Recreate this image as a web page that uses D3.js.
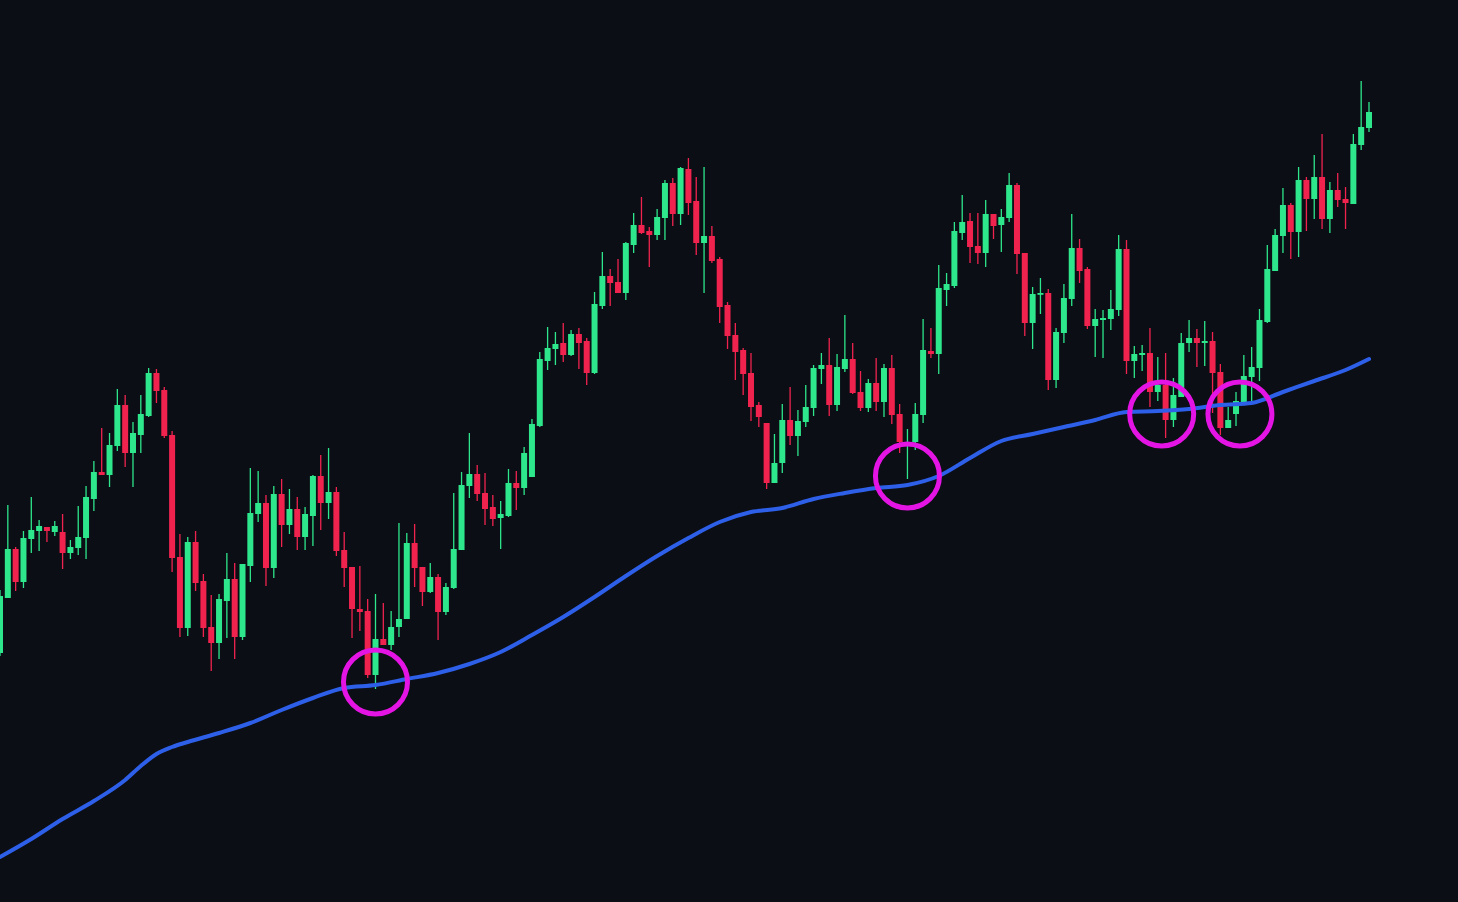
<!DOCTYPE html>
<html>
<head>
<meta charset="utf-8">
<script src="https://cdn.jsdelivr.net/npm/d3@7"></script>
<style>
html,body{margin:0;padding:0;background:#0b0e15;overflow:hidden;}
svg{display:block;}
</style>
</head>
<body>
<svg id="chart" width="1458" height="902"></svg>
<script>
// ---- data (price units) ----
const opens = [34.7,40.2,45.1,41.8,46.1,46.9,47.3,46.8,46.8,44.7,45.2,46.2,50.1,52.8,52.5,55.4,59.5,54.7,56.5,58.4,
62.7,61.0,56.5,44.3,37.2,45.8,41.9,37.3,35.7,39.9,42.1,36.3,43.4,48.6,49.7,43.2,50.6,47.5,49.1,46.3,
48.4,52.4,49.7,50.8,45.0,43.3,39.1,38.9,32.5,36.1,35.5,37.3,38.1,45.7,43.3,40.8,42.3,38.8,41.2,45.0,
51.4,52.6,50.7,49.3,48.2,48.4,51.7,51.2,52.3,57.4,63.9,65.1,65.7,64.5,66.6,65.9,62.7,69.4,72.4,71.8,
70.7,75.5,77.5,76.9,76.5,78.2,81.7,78.6,83.1,79.9,75.7,76.4,74.1,69.5,66.5,65.0,62.7,59.5,57.7,51.7,
53.7,58.0,56.4,57.8,59.2,63.1,63.5,59.5,63.1,64.1,60.8,59.2,61.7,59.8,63.2,58.6,55.4,55.8,58.5,64.9,
64.6,71.0,71.4,76.7,77.9,75.4,74.7,78.6,77.5,78.2,81.5,74.7,67.7,70.6,70.7,62.0,66.7,70.1,75.2,73.1,
67.4,68.0,68.1,69.0,75.1,63.9,64.5,64.7,60.8,61.5,58.0,60.3,65.7,66.2,65.7,65.9,62.8,57.2,58.6,59.8,
62.3,63.2,67.8,72.9,76.4,79.5,76.8,82.0,80.1,82.3,78.1,81.0,80.1,79.6,85.5,87.2];
const highs = [41.0,49.5,45.3,46.9,50.3,48.0,47.3,47.9,48.6,46.0,49.4,51.4,53.9,57.2,56.7,61.1,60.5,57.8,60.5,63.2,
63.1,61.3,56.9,46.6,46.3,46.9,42.6,40.5,40.6,44.7,43.7,43.6,53.2,52.9,50.5,51.4,52.1,51.1,50.3,49.3,
52.5,54.5,55.2,51.3,46.8,43.3,43.4,40.1,40.6,39.7,38.9,47.7,46.7,47.6,43.3,43.7,42.6,41.7,50.7,52.8,
56.7,53.5,52.7,50.5,49.9,53.1,52.9,55.3,58.1,64.8,67.3,66.8,67.7,67.0,67.2,66.2,70.8,74.8,73.1,74.1,
75.8,78.7,80.3,77.3,79.1,82.0,82.2,83.3,84.2,82.3,83.3,77.4,74.3,69.8,67.7,65.2,64.7,59.8,57.7,56.6,
59.6,61.3,59.0,61.5,63.5,64.7,66.2,64.6,68.5,65.7,62.9,62.1,64.2,63.6,64.5,59.6,57.1,59.7,68.1,67.2,
73.5,72.7,77.8,80.5,78.7,78.7,80.0,78.6,79.1,82.7,81.7,74.7,71.3,72.2,71.1,67.2,71.6,78.6,76.1,73.3,
69.1,69.0,71.0,76.5,76.0,65.4,65.5,67.2,64.3,64.7,62.2,66.7,68.0,67.1,67.9,66.8,63.6,59.3,60.8,64.5,
65.3,69.1,75.5,77.1,81.2,79.7,83.3,82.3,84.5,86.6,81.8,82.7,81.3,86.6,91.9,89.8];
const lows = [34.4,40.2,40.9,41.2,44.7,44.9,45.8,46.4,43.1,44.1,44.5,44.1,48.9,52.5,51.3,54.9,53.3,51.3,54.7,58.3,
59.7,56.2,42.8,36.3,36.4,40.9,36.3,32.9,34.1,36.2,34.1,36.0,41.8,47.8,41.4,42.2,45.3,46.6,45.0,45.0,
45.4,47.0,48.1,44.4,41.3,36.2,36.9,32.2,31.1,35.5,35.0,36.3,38.1,41.3,39.4,40.7,36.0,38.5,41.1,45.0,
50.2,49.9,47.5,47.4,45.1,48.3,49.0,50.5,52.3,57.3,63.0,63.5,63.8,64.4,63.1,61.5,62.6,69.1,69.4,70.7,
70.0,74.7,76.6,73.3,76.0,76.0,77.4,77.5,78.5,74.5,70.7,73.7,67.7,65.1,62.0,60.5,57.9,57.3,51.1,51.7,
52.7,55.5,54.4,57.3,58.4,61.6,58.4,58.9,62.8,60.6,58.9,58.8,58.9,58.3,57.6,54.7,52.1,55.0,57.7,64.2,
62.6,69.4,71.2,76.0,73.7,73.6,73.3,76.1,74.8,77.8,72.6,66.4,65.1,68.6,61.0,61.2,65.7,69.4,71.7,67.1,
64.3,64.2,67.0,68.4,62.6,62.2,62.9,59.3,59.9,56.2,57.3,60.3,64.8,63.3,63.4,58.7,56.5,57.2,57.4,59.7,
59.7,61.9,67.7,72.9,74.7,74.1,74.3,76.9,78.1,77.1,76.7,79.3,77.1,79.6,85.0,86.8];
const closes = [40.4,45.1,41.8,46.2,47.0,47.4,46.9,47.4,44.7,45.3,46.3,50.3,52.8,52.5,55.5,59.5,54.7,56.7,58.6,62.7,
60.9,56.4,44.2,37.2,45.8,41.7,37.2,35.7,40.1,42.1,36.3,43.6,48.7,49.7,43.2,50.6,47.5,49.1,46.3,48.6,
52.4,49.7,50.8,44.9,43.2,39.1,38.8,32.5,36.1,35.5,37.3,38.1,45.7,43.2,40.8,42.3,38.8,41.3,45.1,51.5,
52.6,50.6,49.1,48.1,48.6,51.7,51.2,54.7,57.6,64.1,65.2,65.6,64.5,66.6,65.7,62.7,69.6,72.4,71.7,70.7,
75.7,77.5,76.7,76.5,78.3,81.7,78.6,83.2,79.7,75.7,76.4,73.9,69.3,66.4,64.8,62.6,59.3,58.3,51.7,53.7,
58.0,56.4,57.9,59.3,63.2,63.5,59.5,63.3,64.1,60.7,59.2,61.7,59.8,63.2,58.5,55.8,55.8,58.6,65.0,64.6,
71.2,71.6,76.9,77.8,75.3,74.7,78.6,77.4,78.3,81.5,74.6,67.7,70.6,70.7,62.0,66.8,70.2,75.2,72.9,67.4,
68.1,68.2,69.1,75.1,63.9,64.6,64.7,60.8,61.5,58.0,60.5,65.7,66.2,65.7,65.9,62.7,57.2,58.0,59.9,62.4,
63.3,68.0,73.1,76.5,79.5,76.8,82.0,80.1,82.3,78.1,81.0,80.0,79.7,85.6,87.3,88.8];

// moving average read at candle indices
const maIndex = [0,4,8,12,16,18,20,22,24,28,32,36,40,44,48,52,56,60,64,68,72,76,80,84,88,92,96,100,104,108,
112,116,120,124,128,132,136,140,144,148,152,156,160,164,168,172,175];
const maValue = [14.3,16.1,18.1,19.9,22.0,23.4,24.6,25.3,25.8,26.7,27.7,29.0,30.2,31.2,31.5,32.1,32.7,33.6,34.8,36.5,
38.3,40.3,42.4,44.4,46.2,47.8,48.8,49.2,50.1,50.7,51.2,51.5,52.4,54.2,55.9,56.6,57.3,58.0,58.8,58.9,
59.1,59.5,59.7,60.8,61.9,63.0,64.1];

// highlighted touches of the average
const touchIndex = [48, 116, 148.5, 158.5];
const touchPrice = [31.8, 52.4, 58.6, 58.6];

// ---- drawing ----
const W = 1458, H = 902;
const svg = d3.select("#chart");
svg.append("rect").attr("width", W).attr("height", H).attr("fill", "#0b0e15");

const x = d3.scaleLinear().domain([0, 175]).range([0, 1369]);
const y = d3.scaleLinear().domain([10, 90]).range([900, 100]);

const UP = "#2ee68b", DOWN = "#f0234f";
const candles = opens.map((o, i) => ({i, o, h: highs[i], l: lows[i], c: closes[i]}));

const g = svg.append("g");
g.selectAll("line.wick").data(candles).join("line")
  .attr("class", "wick")
  .attr("x1", d => x(d.i)).attr("x2", d => x(d.i))
  .attr("y1", d => y(d.h)).attr("y2", d => y(d.l))
  .attr("stroke", d => d.c >= d.o ? UP : DOWN)
  .attr("stroke-width", 1.3);

const bw = 6;
g.selectAll("rect.body").data(candles).join("rect")
  .attr("class", "body")
  .attr("x", d => x(d.i) - bw / 2)
  .attr("width", bw)
  .attr("y", d => y(Math.max(d.o, d.c)))
  .attr("height", d => Math.max(1.8, Math.abs(y(d.o) - y(d.c))))
  .attr("fill", d => d.c >= d.o ? UP : DOWN);

const ma = maIndex.map((k, j) => [k, maValue[j]]);
svg.append("path")
  .datum(ma)
  .attr("fill", "none")
  .attr("stroke", "#2d5fe8")
  .attr("stroke-width", 4)
  .attr("stroke-linecap", "round")
  .attr("d", d3.line().x(d => x(d[0])).y(d => y(d[1])).curve(d3.curveMonotoneX));

svg.selectAll("circle.touch").data(touchIndex.map((k, j) => [k, touchPrice[j]])).join("circle")
  .attr("class", "touch")
  .attr("cx", d => x(d[0]))
  .attr("cy", d => y(d[1]))
  .attr("r", 32)
  .attr("fill", "none")
  .attr("stroke", "#e414e4")
  .attr("stroke-width", 5);
</script>
</body>
</html>
